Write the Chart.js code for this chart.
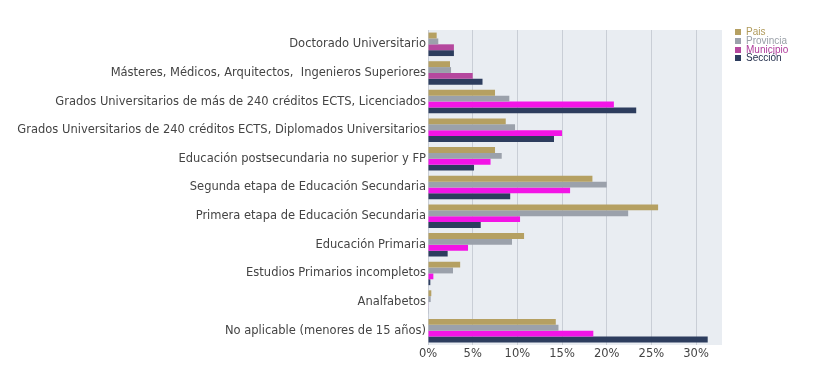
<!DOCTYPE html>
<html>
<head>
<meta charset="utf-8">
<script src="https://cdn.jsdelivr.net/npm/chart.js@4.4.1/dist/chart.umd.min.js"></script>
<style>
  html, body { margin: 0; padding: 0; background: #fff; }
  #wrap { position: relative; width: 830px; height: 374px; }
  #legend { position: absolute; left: 735px; top: 28px; font-family: "Liberation Sans", Arial, sans-serif; font-size: 10px; line-height: 8.8px; }
  #legend div { white-space: nowrap; }
  #legend span { display: inline-block; width: 6px; height: 6px; margin-right: 5px; vertical-align: 0px; }
</style>
</head>
<body>
<div id="wrap">
  <canvas id="chart" width="830" height="374"></canvas>
  <div id="legend"></div>
</div>
<script>
const CATEGORIES = [
  'Doctorado Universitario',
  'Másteres, Médicos, Arquitectos,  Ingenieros Superiores',
  'Grados Universitarios de más de 240 créditos ECTS, Licenciados',
  'Grados Universitarios de 240 créditos ECTS, Diplomados Universitarios',
  'Educación postsecundaria no superior y FP',
  'Segunda etapa de Educación Secundaria',
  'Primera etapa de Educación Secundaria',
  'Educación Primaria',
  'Estudios Primarios incompletos',
  'Analfabetos',
  'No aplicable (menores de 15 años)',
];
const SERIES_NAMES = ['Pais', 'Provincia', 'Municipio', 'Sección'];
const PAIS      = [0.97, 2.46, 7.5, 8.7, 7.5, 18.4, 25.75, 10.75, 3.6, 0.37, 14.3];
const PROVINCIA = [1.15, 2.58, 9.1, 9.74, 8.25, 20.0, 22.4, 9.4, 2.8, 0.3, 14.6];
const MUNICIPIO = [2.9, 5.0, 20.8, 15.0, 7.0, 15.9, 10.3, 4.48, 0.6, 0.05, 18.5];
const SECCION   = [2.9, 6.1, 23.3, 14.1, 5.15, 9.2, 5.9, 2.2, 0.26, 0.05, 31.3];
const X_TICKS   = [0, 5, 10, 15, 20, 25, 30];

const BAR_COLORS  = ['#b5a062', '#9ba1ab', '#f314e6', '#2d3d5e'];
const TEXT_COLORS = ['#b09a5a', '#9aa0a8', '#b03c9c', '#1e2a48'];
const MUNI_MUTED  = '#b5489e';

const plotBg = {
  id: 'plotBg',
  beforeDraw(chart) {
    const { ctx, chartArea: a } = chart;
    ctx.save();
    ctx.fillStyle = '#e9edf2';
    ctx.fillRect(a.left, a.top, a.right - a.left, a.bottom - a.top);
    ctx.restore();
  },
};

const seriesData = [PAIS, PROVINCIA, MUNICIPIO, SECCION];
const datasets = seriesData.map((data, i) => ({
  label: SERIES_NAMES[i],
  data,
  backgroundColor: i === 2
    ? data.map((v, j) => j < 2 ? MUNI_MUTED : BAR_COLORS[2])
    : BAR_COLORS[i],
  categoryPercentage: 0.82,
  barPercentage: 1,
}));

new Chart(document.getElementById('chart'), {
  type: 'bar',
  plugins: [plotBg],
  data: { labels: CATEGORIES, datasets },
  options: {
    indexAxis: 'y',
    responsive: false,
    animation: false,
    layout: { padding: { top: 30, right: 108, bottom: 0, left: 0 } },
    plugins: { legend: { display: false }, tooltip: { enabled: false } },
    scales: {
      x: {
        min: 0,
        max: 32.9,
        afterBuildTicks: s => { s.ticks = X_TICKS.map(v => ({ value: v })); },
        afterFit: s => { s.height = 29; },
        grid: { color: '#c9ced6', drawTicks: false },
        border: { display: false },
        ticks: {
          padding: 2,
          color: '#444',
          font: { family: 'DejaVu Sans', size: 11.5 },
          callback: v => v + '%',
        },
      },
      y: {
        afterFit: s => { s.width = 428; },
        grid: { display: false, drawTicks: false },
        border: { display: false },
        ticks: {
          padding: 2,
          color: '#444',
          font: { family: 'DejaVu Sans', size: 11.5 },
        },
      },
    },
  },
});

document.getElementById('legend').innerHTML = SERIES_NAMES.map((n, i) =>
  `<div style="color:${TEXT_COLORS[i]}"><span style="background:${i === 2 ? MUNI_MUTED : BAR_COLORS[i]}"></span>${n}</div>`
).join('');
</script>
</body>
</html>
